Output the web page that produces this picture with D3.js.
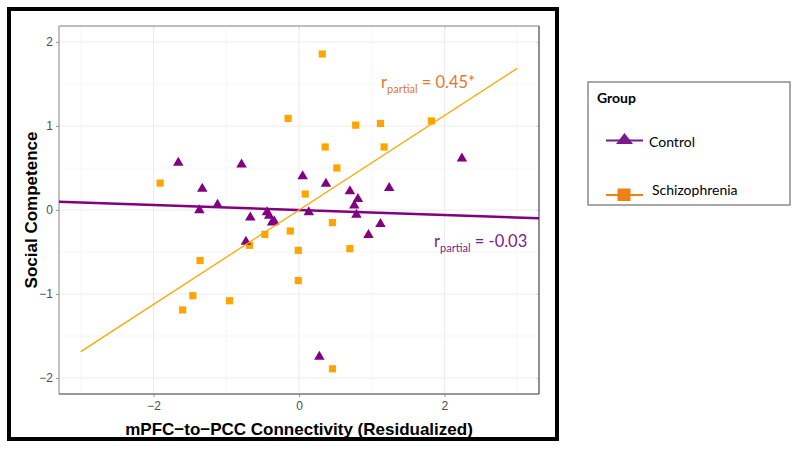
<!DOCTYPE html>
<html>
<head>
<meta charset="utf-8">
<script src="https://cdn.jsdelivr.net/npm/d3@7"></script>
<style>
  html, body { margin: 0; padding: 0; background: #fff; }
  svg { display: block; }
</style>
</head>
<body>
<svg id="chart" width="800" height="450"></svg>
<script>
// ---------------- data ----------------
const controlX = [-1.66, -0.79, -1.33, -1.37, -1.12, -0.67, -0.44, -0.41, -0.37, -0.34, -0.73,
                  0.05, 0.37, 0.70, 1.24, 0.81, 0.76, 0.135, 0.79, 1.12, 0.955, 2.24, 0.28];
const controlY = [0.58, 0.56, 0.27, 0.015, 0.08, -0.07, -0.01, -0.05, -0.13, -0.12, -0.36,
                  0.42, 0.33, 0.24, 0.28, 0.15, 0.07, -0.01, -0.04, -0.15, -0.28, 0.63, -1.73];
const schizX = [-0.15, -1.91, 0.32, 0.78, 1.12, 1.82, 0.36, 1.17, 0.52, 0.085, 0.46,
                -0.12, -0.01, 0.70, -0.01, 0.46, -0.68, -0.47, -1.36, -1.46, -0.955, -1.60];
const schizY = [1.09, 0.32, 1.857, 1.01, 1.03, 1.06, 0.75, 0.75, 0.50, 0.19, -0.15,
                -0.25, -0.48, -0.46, -0.84, -1.89, -0.42, -0.29, -0.60, -1.02, -1.08, -1.19];
const controlFit = { slope: -0.03, intercept: 0.0 };   // drawn across full panel
const schizFit = { slope: 0.562, intercept: 0.0 };     // drawn from -3 to 3
const schizFitRange = [-3, 3];
const xTicks = [-2, 0, 2];
const yTicks = [-2, -1, 0, 1, 2];
const xMinor = [-3, -1, 1, 3];
const yMinor = [-1.5, -0.5, 0.5, 1.5];
const groups = ["Control", "Schizophrenia"];
const xTitle = "mPFC\u2212to\u2212PCC Connectivity (Residualized)";
const yTitle = "Social Competence";
const annoSchiz = { r: "r", sub: "partial", rest: " = 0.45*" };
const annoCtrl = { r: "r", sub: "partial", rest: " = -0.03" };

// ---------------- setup ----------------
const svg = d3.select("#chart");
const PURPLE = "#800080", ORANGE = "#FFA500";
const panel = { l: 59, r: 539, t: 26, b: 394 };
const x = d3.scaleLinear().domain([-3.3, 3.3]).range([panel.l, panel.r]);
const y = d3.scaleLinear().domain([-2.19, 2.19]).range([panel.b, panel.t]);

svg.append("rect").attr("width", 800).attr("height", 450).attr("fill", "#fff");

// outer black frame
svg.append("rect").attr("x", 9).attr("y", 9).attr("width", 548).attr("height", 430)
  .attr("fill", "none").attr("stroke", "#000").attr("stroke-width", 4);

// grid
const g = svg.append("g");
g.selectAll(".vminor").data(xMinor).join("line")
  .attr("x1", d => x(d)).attr("x2", d => x(d)).attr("y1", panel.t).attr("y2", panel.b)
  .attr("stroke", "#f4f4f4").attr("stroke-width", 0.8);
g.selectAll(".hminor").data(yMinor).join("line")
  .attr("y1", d => y(d)).attr("y2", d => y(d)).attr("x1", panel.l).attr("x2", panel.r)
  .attr("stroke", "#f4f4f4").attr("stroke-width", 0.8);
g.selectAll(".vmajor").data(xTicks).join("line")
  .attr("x1", d => x(d)).attr("x2", d => x(d)).attr("y1", panel.t).attr("y2", panel.b)
  .attr("stroke", "#ececec").attr("stroke-width", 1);
g.selectAll(".hmajor").data(yTicks).join("line")
  .attr("y1", d => y(d)).attr("y2", d => y(d)).attr("x1", panel.l).attr("x2", panel.r)
  .attr("stroke", "#ececec").attr("stroke-width", 1);

// axes
const xAxis = svg.append("g").attr("transform", `translate(0,${panel.b})`)
  .call(d3.axisBottom(x).tickValues(xTicks).tickSize(3).tickPadding(4).tickFormat(d3.format("d")));
const yAxis = svg.append("g").attr("transform", `translate(${panel.l},0)`)
  .call(d3.axisLeft(y).tickValues(yTicks).tickSize(3).tickPadding(3).tickFormat(d3.format("d")));
[xAxis, yAxis].forEach(a => {
  a.select(".domain").remove();
  a.selectAll(".tick line").attr("stroke", "#999");
  a.selectAll(".tick text").attr("fill", "#4d4d4d").style("font-family", "Liberation Sans, Arial, sans-serif").style("font-size", "12px");
});
// faint top/right ticks
svg.append("g").attr("transform", `translate(0,${panel.t})`)
  .call(d3.axisTop(x).tickValues(xTicks).tickSize(-3).tickFormat(""))
  .call(a => { a.select(".domain").remove(); a.selectAll("line").attr("stroke", "#ddd"); });
svg.append("g").attr("transform", `translate(${panel.r},0)`)
  .call(d3.axisRight(y).tickValues(yTicks).tickSize(-3).tickFormat(""))
  .call(a => { a.select(".domain").remove(); a.selectAll("line").attr("stroke", "#ddd"); });

// panel border
svg.append("line").attr("x1", panel.l).attr("x2", panel.r).attr("y1", panel.t).attr("y2", panel.t).attr("stroke", "#a8a8a8").attr("stroke-width", 1.3);
svg.append("line").attr("x1", panel.l).attr("x2", panel.l).attr("y1", panel.t).attr("y2", panel.b).attr("stroke", "#a0a0a0").attr("stroke-width", 1.3);
svg.append("line").attr("x1", panel.l).attr("x2", panel.r).attr("y1", panel.b).attr("y2", panel.b).attr("stroke", "#777").attr("stroke-width", 1.3);
svg.append("line").attr("x1", panel.r).attr("x2", panel.r).attr("y1", panel.t).attr("y2", panel.b).attr("stroke", "#555").attr("stroke-width", 1.3);

// clip
svg.append("clipPath").attr("id", "clip").append("rect")
  .attr("x", panel.l).attr("y", panel.t).attr("width", panel.r - panel.l).attr("height", panel.b - panel.t);
const plot = svg.append("g").attr("clip-path", "url(#clip)");

// points
const ctrl = controlX.map((v, i) => ({ x: v, y: controlY[i] }));
const schiz = schizX.map((v, i) => ({ x: v, y: schizY[i] }));
const triPath = (w, h) => `M0,${-h / 2}L${w / 2},${h / 2}L${-w / 2},${h / 2}Z`;

plot.selectAll(".sq").data(schiz).join("rect")
  .attr("x", d => x(d.x) - 3.6).attr("y", d => y(d.y) - 3.6)
  .attr("width", 7.2).attr("height", 7.2).attr("fill", ORANGE);

plot.selectAll(".tri").data(ctrl).join("path")
  .attr("d", triPath(10.5, 9))
  .attr("transform", d => `translate(${x(d.x)},${y(d.y)})`)
  .attr("fill", PURPLE);

// fit lines
const ctrlDom = x.domain();
plot.append("line")
  .attr("x1", x(ctrlDom[0])).attr("y1", y(controlFit.intercept + controlFit.slope * ctrlDom[0]))
  .attr("x2", x(ctrlDom[1])).attr("y2", y(controlFit.intercept + controlFit.slope * ctrlDom[1]))
  .attr("stroke", PURPLE).attr("stroke-width", 2.4);
plot.append("line")
  .attr("x1", x(schizFitRange[0])).attr("y1", y(schizFit.intercept + schizFit.slope * schizFitRange[0]))
  .attr("x2", x(schizFitRange[1])).attr("y2", y(schizFit.intercept + schizFit.slope * schizFitRange[1]))
  .attr("stroke", ORANGE).attr("stroke-width", 1.3);

// annotations
function anno(a, px, py, color) {
  const t = svg.append("text").attr("x", px).attr("y", py).attr("fill", color)
    .style("font-family", "Lato, 'Open Sans', sans-serif").style("font-size", "16.5px");
  t.append("tspan").text(a.r);
  t.append("tspan").attr("dy", 4.5).style("font-size", "11px").text(a.sub);
  t.append("tspan").attr("dy", -4.5).text(a.rest);
}
anno(annoSchiz, 381, 88, "#E4782A");
anno(annoCtrl, 434, 247, "#7B1E84");

// axis titles
svg.append("text").attr("x", (panel.l + panel.r) / 2).attr("y", 435).attr("text-anchor", "middle")
  .style("font-family", "Liberation Sans, Arial, sans-serif").style("font-weight", "bold").style("font-size", "17px")
  .attr("fill", "#000").text(xTitle);
svg.append("text").attr("transform", `translate(36.5,${(panel.t + panel.b) / 2}) rotate(-90)`).attr("text-anchor", "middle")
  .style("font-family", "Liberation Sans, Arial, sans-serif").style("font-weight", "bold").style("font-size", "17px")
  .attr("fill", "#000").text(yTitle);

// legend
const lg = svg.append("g");
lg.append("rect").attr("x", 588).attr("y", 82).attr("width", 202).attr("height", 123)
  .attr("fill", "#fff").attr("stroke", "#7a7a7a").attr("stroke-width", 1.3);
lg.append("text").attr("x", 597).attr("y", 103).style("font-family", "Lato, sans-serif")
  .style("font-weight", "bold").style("font-size", "14px").attr("fill", "#000").text("Group");
const legRows = [
  { name: groups[0], y: 140.5, line: "#7A1A8C", textX: 649, textY: 146.5 },
  { name: groups[1], y: 195, line: "#F07F14", textX: 652, textY: 195 }
];
legRows.forEach((r, i) => {
  lg.append("line").attr("x1", 606).attr("x2", 643).attr("y1", r.y).attr("y2", r.y)
    .attr("stroke", r.line).attr("stroke-width", 2.2);
  if (i === 0) {
    lg.append("path").attr("d", triPath(17, 11)).attr("transform", `translate(624.5,${r.y - 2})`).attr("fill", "#7A1A8C");
  } else {
    lg.append("rect").attr("x", 617.5).attr("y", r.y - 6.5).attr("width", 13).attr("height", 12.5).attr("fill", "#F07F14");
  }
  lg.append("text").attr("x", r.textX).attr("y", r.textY).style("font-family", "Lato, sans-serif")
    .style("font-size", "14px").attr("fill", "#000").text(r.name);
});
</script>
</body>
</html>
